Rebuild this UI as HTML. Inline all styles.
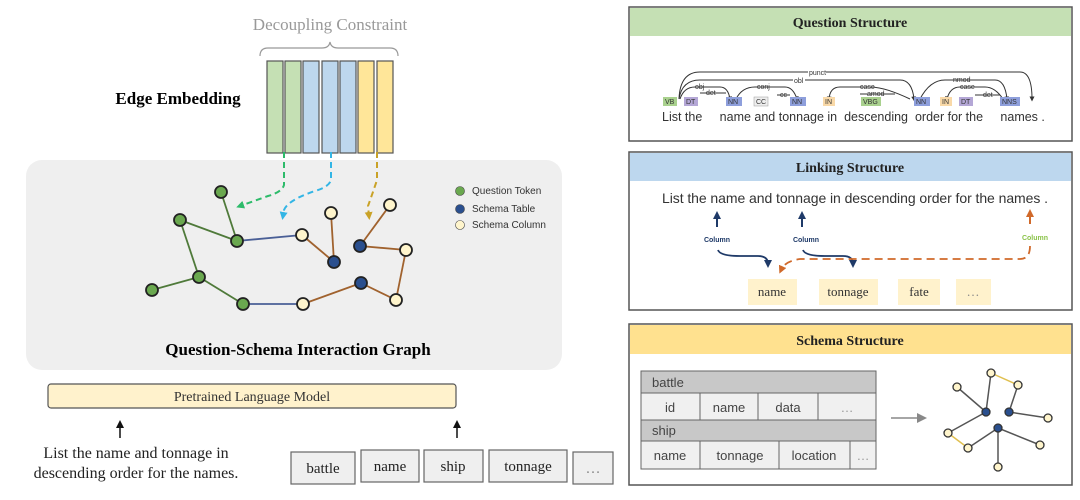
<!DOCTYPE html>
<html><head><meta charset="utf-8"><style>
body{margin:0;width:1080px;height:500px;background:#fff;overflow:hidden}
svg{display:block}
.s{font-family:"Liberation Serif",serif}
.a{font-family:"Liberation Sans",sans-serif}
</style></head><body>
<svg width="1080" height="500" viewBox="0 0 1080 500">
<defs>
<marker id="ag" markerWidth="8" markerHeight="8" refX="4" refY="4" orient="auto" markerUnits="userSpaceOnUse"><path d="M0,0L8,4L0,8z" fill="#2dbb6a"/></marker>
<marker id="ab" markerWidth="8" markerHeight="8" refX="4" refY="4" orient="auto" markerUnits="userSpaceOnUse"><path d="M0,0L8,4L0,8z" fill="#33b5e5"/></marker>
<marker id="ay" markerWidth="8" markerHeight="8" refX="4" refY="4" orient="auto" markerUnits="userSpaceOnUse"><path d="M0,0L8,4L0,8z" fill="#c9a227"/></marker>
<marker id="an" markerWidth="8" markerHeight="8" refX="4" refY="4" orient="auto" markerUnits="userSpaceOnUse"><path d="M0,0L8,4L0,8z" fill="#1f3a68"/></marker>
<marker id="ao" markerWidth="8" markerHeight="8" refX="4" refY="4" orient="auto" markerUnits="userSpaceOnUse"><path d="M0,0L8,4L0,8z" fill="#d0692a"/></marker>
<marker id="ak" markerWidth="8" markerHeight="8" refX="4" refY="4" orient="auto" markerUnits="userSpaceOnUse"><path d="M0,0L8,4L0,8z" fill="#111"/></marker>
<marker id="agr" markerWidth="10" markerHeight="10" refX="5" refY="5" orient="auto" markerUnits="userSpaceOnUse"><path d="M0,0L10,5L0,10z" fill="#888"/></marker>
<marker id="as" markerWidth="5" markerHeight="5" refX="2.5" refY="2.5" orient="auto" markerUnits="userSpaceOnUse"><path d="M0,0L5,2.5L0,5z" fill="#333"/></marker>
</defs>

<!-- Top left -->
<text x="330" y="30" class="s" font-size="17" fill="#999" text-anchor="middle">Decoupling Constraint</text>
<path d="M260,56 Q260,48 268,48 L322,48 Q329,48 330,42 Q331,48 338,48 L390,48 Q398,48 398,56" fill="none" stroke="#999" stroke-width="1.2"/>
<text x="178" y="104" class="s" font-size="17" font-weight="bold" text-anchor="middle">Edge Embedding</text>
<g stroke="#555" stroke-width="1.2">
<rect x="267" y="61" width="16" height="92" fill="#c5e0b4"/>
<rect x="285" y="61" width="16" height="92" fill="#c5e0b4"/>
<rect x="303" y="61" width="16" height="92" fill="#bdd7ee"/>
<rect x="322" y="61" width="16" height="92" fill="#bdd7ee"/>
<rect x="340" y="61" width="16" height="92" fill="#bdd7ee"/>
<rect x="358" y="61" width="16" height="92" fill="#ffe699"/>
<rect x="377" y="61" width="16" height="92" fill="#ffe699"/>
</g>

<!-- gray panel -->
<rect x="26" y="160" width="536" height="210" rx="16" fill="#efefef"/>
<g fill="none" stroke-width="2" stroke-dasharray="6,4">
<path d="M284,152 L284,185 Q282,192 268,196 L240,206" stroke="#2dbb6a" marker-end="url(#ag)"/>
<path d="M331,152 L331,180 Q329,187 315,191 Q288,200 284,210 L283,216" stroke="#33b5e5" marker-end="url(#ab)"/>
<path d="M377,152 L377,180 Q372,195 368,206 L369,216" stroke="#c9a227" marker-end="url(#ay)"/>
</g>
<g stroke-width="1.8" fill="none">
<g stroke="#4f7a3a">
<line x1="221" y1="192" x2="237" y2="241"/><line x1="180" y1="220" x2="237" y2="241"/>
<line x1="180" y1="220" x2="199" y2="277"/><line x1="152" y1="290" x2="199" y2="277"/>
<line x1="199" y1="277" x2="243" y2="304"/></g>
<g stroke="#4a5f96"><line x1="237" y1="241" x2="302" y2="235"/><line x1="243" y1="304" x2="303" y2="304"/></g>
<g stroke="#a0622e">
<line x1="302" y1="235" x2="334" y2="262"/><line x1="331" y1="213" x2="334" y2="262"/>
<line x1="303" y1="304" x2="361" y2="283"/><line x1="361" y1="283" x2="396" y2="300"/>
<line x1="396" y1="300" x2="406" y2="250"/><line x1="406" y1="250" x2="360" y2="246"/>
<line x1="360" y1="246" x2="390" y2="205"/></g>
</g>
<g stroke="#222" stroke-width="1.8">
<g fill="#6aa84f"><circle cx="221" cy="192" r="6"/><circle cx="180" cy="220" r="6"/><circle cx="237" cy="241" r="6"/><circle cx="199" cy="277" r="6"/><circle cx="152" cy="290" r="6"/><circle cx="243" cy="304" r="6"/></g>
<g fill="#fff5cc"><circle cx="302" cy="235" r="6"/><circle cx="331" cy="213" r="6"/><circle cx="390" cy="205" r="6"/><circle cx="406" cy="250" r="6"/><circle cx="396" cy="300" r="6"/><circle cx="303" cy="304" r="6"/></g>
<g fill="#2a4f8e"><circle cx="334" cy="262" r="6"/><circle cx="360" cy="246" r="6"/><circle cx="361" cy="283" r="6"/></g>
</g>
<g class="a" font-size="10" fill="#333">
<circle cx="460" cy="191" r="4.5" fill="#6aa84f" stroke="#444" stroke-width=".6"/><text x="472" y="194">Question Token</text>
<circle cx="460" cy="209" r="4.5" fill="#2a4f8e" stroke="#444" stroke-width=".6"/><text x="472" y="212">Schema Table</text>
<circle cx="460" cy="225" r="4.5" fill="#fff5cc" stroke="#444" stroke-width=".6"/><text x="472" y="228">Schema Column</text>
</g>
<text x="298" y="355" class="s" font-size="17" font-weight="bold" text-anchor="middle">Question-Schema Interaction Graph</text>

<!-- PLM -->
<rect x="48" y="384" width="408" height="24" rx="3" fill="#fff2cc" stroke="#555" stroke-width="1.2"/>
<text x="252" y="401" class="s" font-size="14" fill="#333" text-anchor="middle">Pretrained Language Model</text>
<line x1="120" y1="438" x2="120" y2="424" stroke="#111" stroke-width="1.5" marker-end="url(#ak)"/>
<line x1="457" y1="438" x2="457" y2="424" stroke="#111" stroke-width="1.5" marker-end="url(#ak)"/>
<text x="136" y="458" class="s" font-size="16" fill="#222" text-anchor="middle">List the name and tonnage in</text>
<text x="136" y="478" class="s" font-size="16" fill="#222" text-anchor="middle">descending order for the names.</text>
<g fill="#efefef" stroke="#666" stroke-width="1.2">
<rect x="291" y="452" width="64" height="32"/><rect x="361" y="450" width="58" height="32"/>
<rect x="424" y="450" width="59" height="32"/><rect x="489" y="450" width="78" height="32"/>
<rect x="573" y="452" width="40" height="32"/></g>
<g class="s" font-size="15" fill="#222" text-anchor="middle">
<text x="323" y="473">battle</text><text x="390" y="471">name</text><text x="453" y="471">ship</text><text x="528" y="471">tonnage</text><text x="593" y="473" fill="#888">…</text></g>

<!-- Question Structure -->
<rect x="629" y="7" width="443" height="134" fill="#fff" stroke="#555" stroke-width="1.5"/>
<rect x="630" y="8" width="441" height="28" fill="#c5e0b4"/>
<text x="850" y="27" class="s" font-size="14" font-weight="bold" text-anchor="middle" fill="#222">Question Structure</text>
<g fill="none" stroke="#333" stroke-width="1">
<path d="M679,99 Q680,72 700,72 L1020,72 Q1032,72 1032,99" marker-end="url(#as)"/>
<path d="M679,99 Q682,80 700,80 L900,80 Q912,80 914,99" marker-end="url(#as)"/>
<path d="M680,99 Q684,87 695,87 L720,87 Q728,87 730,99" marker-end="url(#as)"/>
<path d="M700,93 L726,93" />
<path d="M736,99 Q742,87 755,87 L785,87 Q793,87 797,99" marker-end="url(#as)"/>
<path d="M777,95 L790,95"/>
<path d="M895,94 L860,94"/>
<path d="M910,99 Q885,87 870,87 L840,87 Q830,87 829,99" marker-end="url(#as)"/>
<path d="M920,99 Q930,80 945,80 L995,80 Q1005,80 1007,99" marker-end="url(#as)"/>
<path d="M1003,99 Q995,87 985,87 L960,87 Q950,87 947,99" marker-end="url(#as)"/>
<path d="M1000,95 L975,95"/>
</g>
<g class="a" font-size="7" fill="#333">
<rect x="808" y="69" width="18" height="7" fill="#fff"/><text x="809" y="75">punct</text>
<rect x="793" y="77" width="12" height="7" fill="#fff"/><text x="794" y="83">obl</text>
<text x="695" y="89">obj</text><text x="706" y="95">det</text><text x="757" y="89">conj</text><text x="780" y="97">cc</text>
<text x="860" y="89">case</text><text x="867" y="96">amod</text><text x="953" y="82">nmod</text><text x="960" y="89">case</text><text x="983" y="97">det</text>
</g>
<g class="a" font-size="7" fill="#333">
<rect x="663" y="97" width="14" height="9" fill="#a9d18e"/><text x="665" y="104">VB</text>
<rect x="684" y="97" width="14" height="9" fill="#b4a7d6"/><text x="686" y="104">DT</text>
<rect x="726" y="97" width="16" height="9" fill="#8e9fdc"/><text x="728" y="104">NN</text>
<rect x="754" y="97" width="14" height="9" fill="#eee" stroke="#999" stroke-width=".5"/><text x="756" y="104">CC</text>
<rect x="790" y="97" width="16" height="9" fill="#8e9fdc"/><text x="792" y="104">NN</text>
<rect x="823" y="97" width="12" height="9" fill="#f9d9a8"/><text x="825" y="104">IN</text>
<rect x="861" y="97" width="20" height="9" fill="#a9d18e"/><text x="863" y="104">VBG</text>
<rect x="914" y="97" width="16" height="9" fill="#8e9fdc"/><text x="916" y="104">NN</text>
<rect x="940" y="97" width="12" height="9" fill="#f9d9a8"/><text x="942" y="104">IN</text>
<rect x="959" y="97" width="14" height="9" fill="#b4a7d6"/><text x="961" y="104">DT</text>
<rect x="1000" y="97" width="20" height="9" fill="#8e9fdc"/><text x="1002" y="104">NNS</text>
</g>
<text x="662" y="121" class="a" font-size="12.5" fill="#333" xml:space="preserve">List the     name and tonnage in  descending  order for the     names .</text>

<!-- Linking Structure -->
<rect x="629" y="152" width="443" height="158" fill="#fff" stroke="#555" stroke-width="1.5"/>
<rect x="630" y="153" width="441" height="28" fill="#bdd7ee"/>
<text x="850" y="172" class="s" font-size="14" font-weight="bold" text-anchor="middle" fill="#222">Linking Structure</text>
<text x="662" y="203" class="a" font-size="14" fill="#333" textLength="386">List the name and tonnage in  descending order for the names .</text>
<g class="a" font-size="7" font-weight="bold">
<text x="717" y="242" fill="#1f3a68" text-anchor="middle">Column</text>
<text x="806" y="242" fill="#1f3a68" text-anchor="middle">Column</text>
<text x="1035" y="240" fill="#8bc34a" text-anchor="middle">Column</text></g>
<line x1="717" y1="227" x2="717" y2="215" stroke="#1f3a68" stroke-width="2" marker-end="url(#an)"/>
<line x1="802" y1="227" x2="802" y2="215" stroke="#1f3a68" stroke-width="2" marker-end="url(#an)"/>
<line x1="1030" y1="224" x2="1030" y2="213" stroke="#d0692a" stroke-width="2" marker-end="url(#ao)"/>
<g fill="none" stroke-width="1.8">
<path d="M718,250 Q720,256 740,256 L758,256 Q768,256 768,264" stroke="#1f3a68" marker-end="url(#an)"/>
<path d="M803,250 Q805,256 825,256 L843,256 Q853,256 853,264" stroke="#1f3a68" marker-end="url(#an)"/>
<path d="M1030,246 Q1030,259 1020,259 L800,259 Q785,261 781,270" stroke="#d0692a" stroke-dasharray="8,5" marker-end="url(#ao)"/>
</g>
<g fill="#fff2cc">
<rect x="748" y="279" width="49" height="26"/><rect x="819" y="279" width="59" height="26"/>
<rect x="898" y="279" width="42" height="26"/><rect x="956" y="279" width="35" height="26"/></g>
<g class="s" font-size="13" fill="#333" text-anchor="middle">
<text x="772" y="296">name</text><text x="848" y="296">tonnage</text><text x="919" y="296">fate</text><text x="973" y="296" fill="#888">…</text></g>

<!-- Schema Structure -->
<rect x="629" y="324" width="443" height="161" fill="#fff" stroke="#555" stroke-width="1.5"/>
<rect x="630" y="325" width="441" height="29" fill="#ffe18f"/>
<text x="850" y="345" class="s" font-size="14" font-weight="bold" text-anchor="middle" fill="#222">Schema Structure</text>
<g stroke="#666" stroke-width="1">
<rect x="641" y="371" width="235" height="22" fill="#c8c8c8"/>
<rect x="641" y="393" width="235" height="27" fill="#f0f0f0"/>
<rect x="641" y="420" width="235" height="21" fill="#c8c8c8"/>
<rect x="641" y="441" width="235" height="28" fill="#f0f0f0"/>
<line x1="700" y1="393" x2="700" y2="420"/><line x1="758" y1="393" x2="758" y2="420"/><line x1="818" y1="393" x2="818" y2="420"/>
<line x1="700" y1="441" x2="700" y2="469"/><line x1="779" y1="441" x2="779" y2="469"/><line x1="850" y1="441" x2="850" y2="469"/>
</g>
<g class="a" font-size="13" fill="#444">
<text x="652" y="387">battle</text><text x="652" y="435">ship</text>
<g text-anchor="middle"><text x="670" y="412">id</text><text x="729" y="412">name</text><text x="788" y="412">data</text><text x="847" y="412" fill="#999">…</text>
<text x="670" y="460">name</text><text x="740" y="460">tonnage</text><text x="814" y="460">location</text><text x="863" y="460" fill="#999">…</text></g></g>
<line x1="891" y1="418" x2="922" y2="418" stroke="#888" stroke-width="1.5" marker-end="url(#agr)"/>
<g stroke-width="1.5">
<g stroke="#555">
<line x1="991" y1="373" x2="986" y2="412"/><line x1="957" y1="387" x2="986" y2="412"/>
<line x1="1018" y1="385" x2="1009" y2="412"/><line x1="1009" y1="412" x2="1048" y2="418"/>
<line x1="948" y1="433" x2="986" y2="412"/><line x1="968" y1="448" x2="998" y2="428"/>
<line x1="998" y1="428" x2="1040" y2="445"/><line x1="998" y1="428" x2="998" y2="467"/></g>
<g stroke="#e0c050"><line x1="991" y1="373" x2="1018" y2="385"/><line x1="948" y1="433" x2="968" y2="448"/></g>
</g>
<g stroke="#333" stroke-width="1.3">
<g fill="#fff5cc"><circle cx="991" cy="373" r="4"/><circle cx="1018" cy="385" r="4"/><circle cx="957" cy="387" r="4"/><circle cx="1048" cy="418" r="4"/><circle cx="948" cy="433" r="4"/><circle cx="968" cy="448" r="4"/><circle cx="1040" cy="445" r="4"/><circle cx="998" cy="467" r="4"/></g>
<g fill="#2a4f8e"><circle cx="986" cy="412" r="4"/><circle cx="1009" cy="412" r="4"/><circle cx="998" cy="428" r="4"/></g>
</g>
</svg>
</body></html>
